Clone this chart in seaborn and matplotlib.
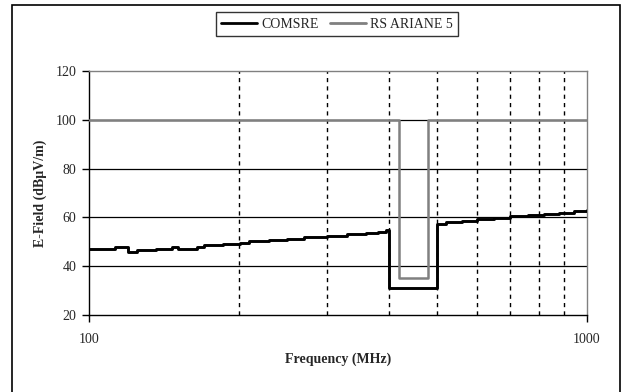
import matplotlib
matplotlib.use("Agg")
import matplotlib.pyplot as plt
import seaborn as sns
import pandas as pd
from matplotlib.patches import Rectangle
from matplotlib.lines import Line2D

# Measured field (stepped spectrum), MHz -> dBuV/m
comsre_freq = [100, 113, 120, 125, 136, 147, 151, 165, 170, 186, 201, 210,
               230, 250, 270, 300, 330, 360, 380, 395, 400, 500, 520, 560,
               600, 650, 700, 760, 820, 880, 940, 1000]
comsre_level = [47, 47.8, 45.8, 46.6, 47.1, 47.8, 47.2, 48, 48.7, 49.1, 49.6, 50.2,
                50.6, 51.2, 51.8, 52.4, 53, 53.6, 54.2, 54.8, 31, 57.3, 58, 58.6,
                59.2, 59.8, 60.4, 61, 61.5, 62, 62.6, 63]

# Launcher radiated susceptibility limit with its notch
ariane_freq = [100, 420, 480, 1000]
ariane_level = [100, 35, 100, 100]

series_names = ["COMSRE", "RS ARIANE 5"]
y_ticks = [20, 40, 60, 80, 100, 120]
x_ticks = [100, 1000]
dashed_freqs = [200, 300, 400, 500, 600, 700, 800, 900]

df = pd.concat([
    pd.DataFrame({"freq": comsre_freq, "level": comsre_level, "series": series_names[0]}),
    pd.DataFrame({"freq": ariane_freq, "level": ariane_level, "series": series_names[1]}),
])

sns.set_style("white")
plt.rcParams["font.family"] = ["Liberation Serif", "DejaVu Serif"]

fig = plt.figure(figsize=(6.24, 3.92), dpi=100)
ax = fig.add_axes([89 / 624, 1 - 315 / 392, 498 / 624, 244 / 392])

palette = {series_names[0]: "#000000", series_names[1]: "#808080"}
sns.lineplot(data=df, x="freq", y="level", hue="series", palette=palette,
             drawstyle="steps-post", estimator=None, sort=True, legend=False,
             ax=ax, zorder=3)
for line, name in zip(ax.lines, series_names):
    line.set_linewidth(2.1 if name == series_names[0] else 1.8)

ax.set_xscale("log")
ax.set_xlim(100, 1000)
ax.set_ylim(20, 120)
ax.set_yticks(y_ticks)
ax.set_xticks(x_ticks)
ax.set_xticklabels([str(t) for t in x_ticks])
ax.xaxis.set_minor_locator(matplotlib.ticker.NullLocator())

for y in y_ticks[1:-1]:
    ax.axhline(y, color="black", linewidth=0.9, zorder=1)
for f in dashed_freqs:
    ax.axvline(f, color="black", linewidth=1.0, linestyle=(0, (3, 3)), zorder=1)

for side in ["left", "bottom"]:
    ax.spines[side].set_color("black")
    ax.spines[side].set_linewidth(1.0)
for side in ["top", "right"]:
    ax.spines[side].set_color("#808080")
    ax.spines[side].set_linewidth(1.0)
    ax.spines[side].set_visible(True)

ax.tick_params(axis="both", which="major", direction="out", length=5, width=1,
               color="black", labelsize=10, pad=4)
ax.tick_params(axis="x", pad=8)
ax.tick_params(left=True, bottom=True)

ax.set_xlabel("Frequency (MHz)", fontsize=10, fontweight="bold", labelpad=5)
ax.set_ylabel("E-Field (dB\u00b5V/m)", fontsize=10, fontweight="bold", labelpad=6)

handles = [Line2D([], [], color=palette[n], linewidth=2.0) for n in series_names]
leg = fig.legend(handles, series_names, loc="center", bbox_to_anchor=(337 / 624, 1 - 24 / 392),
                 ncol=2, frameon=True, fancybox=False, fontsize=10, handlelength=2.6,
                 handletextpad=0.3, columnspacing=0.8, borderpad=0.4)
leg.get_frame().set_edgecolor("black")
leg.get_frame().set_linewidth(1.0)

fig.patches.append(Rectangle((12 / 624, -0.05), 608 / 624, 1.05 - 5 / 392,
                             transform=fig.transFigure, fill=False,
                             edgecolor="black", linewidth=1.2))

fig.savefig("out.png", dpi=100)
